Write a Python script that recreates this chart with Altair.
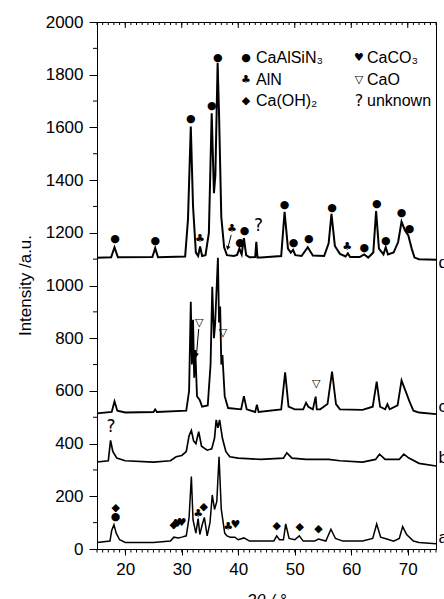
import altair as alt
import pandas as pd

# ---------------- data (2theta in degrees, intensity in a.u.) ----------------
pattern_d = [(15, 1105), (17.5, 1107), (18.1, 1145), (18.7, 1107), (24.8, 1108), (25.3, 1142),
             (25.8, 1107), (30.6, 1110), (31.1, 1250), (31.6, 1603), (32.0, 1300), (32.5, 1125),
             (32.9, 1112), (33.25, 1148), (33.6, 1112), (34.2, 1115), (34.8, 1200), (35.3, 1654),
             (35.7, 1350), (35.95, 1420), (36.35, 1844), (36.6, 1650), (37.0, 1260), (37.5, 1145),
             (38.0, 1115), (39.2, 1112), (39.8, 1116), (40.2, 1140), (40.6, 1118), (41.0, 1180),
             (41.4, 1115), (42.0, 1107), (43.0, 1108), (43.2, 1166), (43.4, 1106), (44.0, 1106),
             (47.6, 1112), (48.2, 1280), (48.8, 1140), (49.3, 1125), (49.7, 1135), (50.1, 1115),
             (51.2, 1112), (52.3, 1145), (53.2, 1114), (55.2, 1112), (56.0, 1160), (56.5, 1272),
             (57.1, 1150), (58.0, 1120), (59.0, 1110), (59.4, 1122), (59.8, 1108), (61.5, 1108),
             (62.3, 1118), (63.0, 1106), (63.9, 1125), (64.4, 1282), (64.9, 1140), (65.7, 1118),
             (66.1, 1145), (66.5, 1118), (67.5, 1125), (68.3, 1165), (68.9, 1242), (69.5, 1210),
             (70.1, 1190), (70.7, 1140), (71.2, 1106), (72.0, 1100), (75.0, 1098)]

pattern_c = [(15, 515), (17.6, 520), (18.1, 560), (18.6, 525), (20, 518), (25.0, 520), (25.3, 530),
             (25.6, 520), (30.8, 525), (31.3, 600), (31.6, 938), (31.8, 700), (32.0, 870),
             (32.2, 650), (32.4, 755), (32.7, 580), (33.2, 565), (33.6, 540), (34.6, 545),
             (35.1, 700), (35.4, 995), (35.7, 800), (35.9, 850), (36.4, 1105), (36.6, 860),
             (36.8, 920), (37.0, 700), (37.2, 736), (37.6, 580), (38.2, 535), (40.5, 530),
             (41.0, 580), (41.5, 530), (43.0, 520), (43.3, 548), (43.6, 520), (47.6, 530),
             (48.3, 670), (48.9, 540), (50.0, 530), (51.5, 530), (52.0, 555), (52.4, 540),
             (53.2, 530), (53.7, 578), (53.9, 530), (54.5, 530), (55.8, 550), (56.6, 673),
             (57.3, 550), (58.0, 530), (62.0, 528), (63.8, 540), (64.5, 635), (65.1, 540),
             (66.0, 530), (66.4, 550), (66.8, 530), (68.2, 545), (68.9, 640), (69.6, 600),
             (70.3, 560), (71.0, 525), (72.0, 518), (75.0, 512)]

pattern_b = [(15, 330), (17.0, 335), (17.4, 412), (17.8, 370), (18.5, 345), (20, 335), (25, 330),
             (28, 335), (29, 350), (30, 355), (30.8, 370), (31.3, 430), (31.7, 450), (32.1, 410),
             (32.5, 400), (33.0, 445), (33.5, 390), (34.5, 375), (35.3, 380), (35.8, 420),
             (36.1, 490), (36.4, 460), (36.7, 490), (37.2, 420), (37.8, 370), (38.5, 350),
             (40, 345), (44, 340), (48, 345), (48.6, 365), (49.5, 345), (52, 340), (56, 340),
             (58, 335), (62, 330), (64.3, 340), (65.0, 360), (66, 340), (68.5, 340), (69.3, 360),
             (70.2, 345), (72, 325), (75, 315)]

pattern_a = [(15, 25), (17.3, 30), (17.6, 70), (18.0, 92), (18.4, 60), (19.0, 35), (20, 25), (25, 25),
             (28.0, 30), (28.6, 45), (29.4, 42), (30.0, 45), (30.8, 50), (31.3, 120), (31.7, 275),
             (32.0, 110), (32.5, 60), (32.9, 115), (33.2, 55), (33.6, 90), (34.0, 120), (34.5, 50),
             (35.0, 100), (35.4, 205), (35.8, 150), (36.2, 180), (36.6, 350), (37.0, 150),
             (37.6, 60), (38.0, 50), (38.6, 45), (39.4, 45), (40.0, 35), (41.0, 42), (42, 30),
             (46.3, 30), (46.8, 50), (47.3, 35), (48.0, 35), (48.4, 95), (49.0, 40), (50.0, 35),
             (50.8, 50), (51.5, 30), (53.5, 30), (54.2, 38), (55.5, 30), (56.4, 75), (57.2, 40),
             (58.5, 30), (62, 30), (63.8, 40), (64.5, 95), (65.2, 45), (66.3, 38), (67.5, 30),
             (68.5, 40), (69.1, 85), (69.8, 55), (71, 30), (72, 25), (75, 20)]

series_names = ["a", "b", "c", "d"]
series_points = [pattern_a, pattern_b, pattern_c, pattern_d]
series_label_y = [42, 346, 540, 1085]

# phase markers: glyph, 2theta, intensity
marker_glyphs = ["●", "●", "●", "●", "●", "●", "●", "●", "●", "●", "●", "●", "●", "●", "●", "●",
                 "♣", "♣", "♣", "?",
                 "▽", "▽", "▽",
                 "?",
                 "◆", "●", "◆", "♥", "♥", "♣", "◆", "♣", "♥", "◆", "◆", "◆"]
marker_theta = [18.2, 25.3, 31.6, 35.3, 36.4, 40.3, 41.1, 48.2, 49.8, 52.5, 56.6, 62.3, 64.5, 66.1, 68.9, 70.3,
                33.2, 38.9, 59.3, 43.6,
                33.1, 37.3, 53.8,
                17.5,
                18.3, 18.3, 28.6, 29.3, 30.0, 32.9, 33.9, 38.2, 39.5, 46.8, 50.9, 54.2]
marker_intensity = [1178, 1170, 1631, 1681, 1862, 1162, 1207, 1305, 1161, 1176, 1294, 1142, 1309, 1170, 1276, 1214,
                    1177, 1213, 1147, 1225,
                    859, 818, 626,
                    462,
                    155, 121, 92, 95, 97, 133, 160, 84, 91, 88, 85, 76]

# arrows: start (2theta, intensity) -> end (2theta, intensity)
arrow_theta = [38.75, 33.0]
arrow_intensity = [1192, 835]
arrow_theta2 = [38.15, 32.6]
arrow_intensity2 = [1142, 735]
arrow_angle = [13, 5]

legend_glyphs = ["●", "♣", "◆", "♥", "▽", "?"]
legend_labels = ["CaAlSiN₃", "AlN", "Ca(OH)₂", "CaCO₃", "CaO", "unknown"]

x_major = [20, 30, 40, 50, 60, 70]
x_minor = list(range(15, 76))
y_major = list(range(0, 2001, 200))
y_minor = list(range(100, 2000, 200))

# ---------------- tables ----------------
rows = []
for name, pts in zip(series_names, series_points):
    for t, v in pts:
        rows.append({"series": name, "theta": t, "intensity": v})
lines_df = pd.DataFrame(rows)

labels_df = pd.DataFrame({"series": series_names, "theta": [75.45] * 4, "intensity": series_label_y})
markers_df = pd.DataFrame({"glyph": marker_glyphs, "theta": marker_theta, "intensity": marker_intensity})
arrows_df = pd.DataFrame({"theta": arrow_theta, "intensity": arrow_intensity,
                          "theta2": arrow_theta2, "intensity2": arrow_intensity2})
heads_df = pd.DataFrame({"theta": arrow_theta2, "intensity": arrow_intensity2, "angle": arrow_angle})
legend_df = pd.DataFrame({"glyph": legend_glyphs, "label": legend_labels, "idx": list(range(6))})
xminor_df = pd.DataFrame({"theta": x_minor})
xmajor_df = pd.DataFrame({"theta": x_major})
yminor_df = pd.DataFrame({"intensity": y_minor})

FONT = "Liberation Sans"
SYM_FONT = "DejaVu Sans"
W, H = 339, 527

x_scale = alt.Scale(domain=[15, 75], nice=False, zero=False)
y_scale = alt.Scale(domain=[0, 2000], nice=False, zero=True)

x_axis = alt.Axis(
    values=x_major, format="d", tickSize=6,
    labelOverlap=False, labelFlush=False, labelPadding=6,
    title="2θ / °", titleX=169, titleY=56, titleBaseline="alphabetic", titleAnchor="start",
    titleAlign="center", titleFontStyle="italic",
    grid=False,
)
y_axis = alt.Axis(
    values=y_major, format="d", tickSize=8,
    labelOverlap=False, labelFlush=False, labelPadding=6,
    title="Intensity /a.u.", titleX=-72, titleY=263, titleAngle=270,
    titleBaseline="middle", titleAlign="center", titleAnchor="start",
    grid=False,
)

X = alt.X("theta:Q", scale=x_scale)
Y = alt.Y("intensity:Q", scale=y_scale)

lines = alt.Chart(lines_df).mark_line(color="black", interpolate="linear").encode(
    x=alt.X("theta:Q", scale=x_scale, axis=x_axis),
    y=alt.Y("intensity:Q", scale=y_scale, axis=y_axis),
    detail="series:N",
    strokeWidth=alt.StrokeWidth("series:N", scale=alt.Scale(domain=series_names, range=[1.5, 2.0, 1.1, 0.9]),
                                legend=None),
)

markers = alt.Chart(markers_df).transform_calculate(
    fs="datum.glyph === '?' ? 17 : 11"
).mark_text(font=SYM_FONT, color="black", baseline="middle").encode(
    x=X, y=Y, text="glyph:N", size=alt.Size("fs:Q", scale=None, legend=None),
)

arrow_lines = alt.Chart(arrows_df).mark_rule(color="black", strokeWidth=1).encode(
    x=X, y=Y, x2="theta2:Q", y2="intensity2:Q",
)
arrow_heads = alt.Chart(heads_df).mark_point(shape="triangle-down", filled=True, color="black",
                                             size=22, opacity=1).encode(
    x=X, y=Y, angle=alt.Angle("angle:Q", scale=None),
)

series_labels = alt.Chart(labels_df).mark_text(font=FONT, fontSize=17, align="left", baseline="middle",
                                              color="black").encode(
    x=X, y=Y, text="series:N",
)

# minor / inward ticks
top_minor = alt.Chart(xminor_df).mark_rule(color="black", strokeWidth=1).encode(
    x=X, y=alt.value(0), y2=alt.value(3))
top_major = alt.Chart(xmajor_df).mark_rule(color="black", strokeWidth=1).encode(
    x=X, y=alt.value(0), y2=alt.value(6))
bottom_minor = alt.Chart(xminor_df).mark_rule(color="black", strokeWidth=1).encode(
    x=X, y=alt.value(H), y2=alt.value(H + 3.5))
left_minor = alt.Chart(yminor_df).mark_rule(color="black", strokeWidth=1).encode(
    y=Y, x=alt.value(-4), x2=alt.value(0))

legend_base = alt.Chart(legend_df).transform_calculate(
    col="floor(datum.idx / 3)", row="datum.idx % 3",
    fs="datum.glyph === '?' ? 16 : 11"
).transform_calculate(
    gx="149 + datum.col * 113", tx="159 + datum.col * 111", py="36 + datum.row * 21.5"
)
legend_glyph = legend_base.mark_text(font=SYM_FONT, align="center", baseline="middle",
                                     color="black").encode(
    x=alt.X("gx:Q", scale=None), y=alt.Y("py:Q", scale=None), text="glyph:N",
    size=alt.Size("fs:Q", scale=None, legend=None))
legend_text = legend_base.mark_text(font=FONT, fontSize=16, align="left", baseline="middle",
                                    color="black").encode(
    x=alt.X("tx:Q", scale=None), y=alt.Y("py:Q", scale=None), text="label:N")

chart = alt.layer(
    lines, top_minor, top_major, bottom_minor, left_minor, arrow_lines, arrow_heads, markers,
    series_labels, legend_glyph, legend_text
).properties(
    width=W, height=H,
    autosize=alt.AutoSizeParams(type="none"),
    padding={"left": 97, "top": 22, "right": 8, "bottom": 50},
    background="white",
).configure_view(
    stroke="black", strokeWidth=1,
).configure_axis(
    labelFont=FONT, labelFontSize=17, labelColor="black",
    titleFont=FONT, titleFontSize=17, titleColor="black", titleFontWeight="normal",
    domainColor="black", domainWidth=1, tickColor="black", tickWidth=1,
)

chart.save("out.html", embed_options={"renderer": "svg", "actions": False})
